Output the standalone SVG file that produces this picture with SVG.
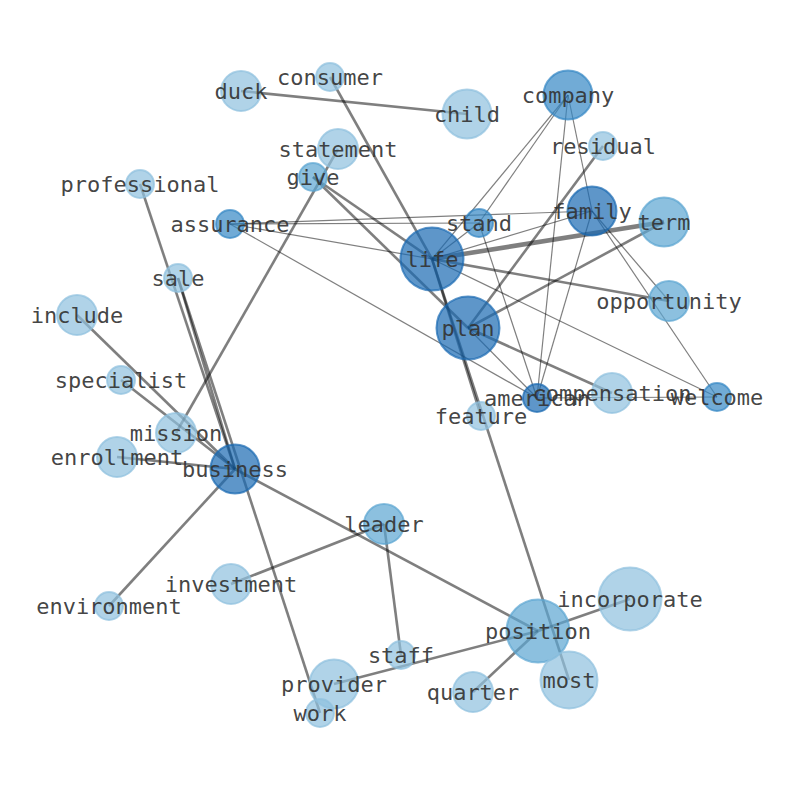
<svg xmlns="http://www.w3.org/2000/svg" width="794" height="790" viewBox="0 0 794 790">
<style>
.e{stroke:#000;stroke-opacity:0.5;fill:none;stroke-linecap:butt}
.m{stroke-width:2.6}
.t{stroke-width:1.2}
.k{stroke-width:4.6}
circle{stroke-width:2;fill-opacity:0.7;stroke-opacity:0.7}
.L{fill:#8ec0de;stroke:#8ec0de}
.M{fill:#5ba5d1;stroke:#5ba5d1}
.D2{fill:#3488c4;stroke:#3488c4}
.D{fill:#1a6ab2;stroke:#1a6ab2}
text{font-family:"DejaVu Sans Mono","Liberation Mono",monospace;font-size:22px;fill:#333;fill-opacity:0.92;text-anchor:middle;dominant-baseline:central}
</style>
<rect width="794" height="790" fill="#fff"/>
<g id="edges">
<line class="e m" x1="241" y1="91" x2="467" y2="114"/>
<line class="e m" x1="330" y1="77" x2="432" y2="259"/>
<line class="e m" x1="338" y1="149" x2="176" y2="433"/>
<line class="e m" x1="313" y1="177" x2="432" y2="259"/>
<line class="e m" x1="313" y1="177" x2="468" y2="328"/>
<line class="e m" x1="140" y1="184" x2="235" y2="469"/>
<line class="e m" x1="178" y1="278" x2="235" y2="469"/>
<line class="e m" x1="178" y1="278" x2="320" y2="713"/>
<line class="e m" x1="77" y1="315" x2="235" y2="469"/>
<line class="e m" x1="121" y1="380" x2="235" y2="469"/>
<line class="e m" x1="117" y1="457" x2="235" y2="469"/>
<line class="e m" x1="109" y1="606" x2="235" y2="469"/>
<line class="e m" x1="235" y1="469" x2="538" y2="631"/>
<line class="e m" x1="231" y1="584" x2="384" y2="524"/>
<line class="e m" x1="384" y1="524" x2="401" y2="655"/>
<line class="e m" x1="334" y1="684" x2="538" y2="631"/>
<line class="e m" x1="538" y1="631" x2="630" y2="599"/>
<line class="e m" x1="538" y1="631" x2="473" y2="692"/>
<line class="e m" x1="432" y1="259" x2="569" y2="680"/>
<line class="e m" x1="432" y1="259" x2="481" y2="416"/>
<line class="e m" x1="432" y1="259" x2="669" y2="301"/>
<line class="e m" x1="468" y1="328" x2="664" y2="222"/>
<line class="e m" x1="468" y1="328" x2="603" y2="146"/>
<line class="e m" x1="468" y1="328" x2="612" y2="393"/>
<line class="e k" x1="432" y1="259" x2="664" y2="222"/>
<line class="e t" x1="230" y1="224" x2="479" y2="223"/>
<line class="e t" x1="230" y1="224" x2="592" y2="211"/>
<line class="e t" x1="230" y1="224" x2="432" y2="259"/>
<line class="e t" x1="230" y1="224" x2="537" y2="398"/>
<line class="e t" x1="568" y1="95" x2="479" y2="223"/>
<line class="e t" x1="568" y1="95" x2="432" y2="259"/>
<line class="e t" x1="568" y1="95" x2="537" y2="398"/>
<line class="e t" x1="568" y1="95" x2="592" y2="211"/>
<line class="e t" x1="592" y1="211" x2="669" y2="301"/>
<line class="e t" x1="592" y1="211" x2="717" y2="397"/>
<line class="e t" x1="592" y1="211" x2="537" y2="398"/>
<line class="e t" x1="432" y1="259" x2="717" y2="397"/>
<line class="e t" x1="432" y1="259" x2="592" y2="211"/>
<line class="e t" x1="432" y1="259" x2="479" y2="223"/>
<line class="e t" x1="479" y1="223" x2="537" y2="398"/>
<line class="e t" x1="468" y1="328" x2="537" y2="398"/>
<line class="e t" x1="537" y1="398" x2="717" y2="397"/>
</g>
<g id="node-duck"><circle class="L" cx="241" cy="91" r="20"/><text x="241" y="91">duck</text></g>
<g id="node-consumer"><circle class="L" cx="330" cy="77" r="14"/><text x="330" y="77">consumer</text></g>
<g id="node-child"><circle class="L" cx="467" cy="114" r="24.5"/><text x="467" y="114">child</text></g>
<g id="node-company"><circle class="D2" cx="568" cy="95" r="24.5"/><text x="568" y="95">company</text></g>
<g id="node-residual"><circle class="L" cx="603" cy="146" r="14"/><text x="603" y="146">residual</text></g>
<g id="node-statement"><circle class="L" cx="338" cy="149" r="20"/><text x="338" y="149">statement</text></g>
<g id="node-give"><circle class="M" cx="313" cy="177" r="14"/><text x="313" y="177">give</text></g>
<g id="node-professional"><circle class="L" cx="140" cy="184" r="14"/><text x="140" y="184">professional</text></g>
<g id="node-assurance"><circle class="D2" cx="230" cy="224" r="14"/><text x="230" y="224">assurance</text></g>
<g id="node-life"><circle class="D" cx="432" cy="259" r="31.5"/><text x="432" y="259">life</text></g>
<g id="node-stand"><circle class="D2" cx="479" cy="223" r="14"/><text x="479" y="223">stand</text></g>
<g id="node-family"><circle class="D" cx="592" cy="211" r="24.5"/><text x="592" y="211">family</text></g>
<g id="node-term"><circle class="M" cx="664" cy="222" r="24.5"/><text x="664" y="222">term</text></g>
<g id="node-sale"><circle class="L" cx="178" cy="278" r="14"/><text x="178" y="278">sale</text></g>
<g id="node-include"><circle class="L" cx="77" cy="315" r="20"/><text x="77" y="315">include</text></g>
<g id="node-opportunity"><circle class="M" cx="669" cy="301" r="20"/><text x="669" y="301">opportunity</text></g>
<g id="node-plan"><circle class="D" cx="468" cy="328" r="31.5"/><text x="468" y="328">plan</text></g>
<g id="node-specialist"><circle class="L" cx="121" cy="380" r="14"/><text x="121" y="380">specialist</text></g>
<g id="node-feature"><circle class="L" cx="481" cy="416" r="14"/><text x="481" y="416">feature</text></g>
<g id="node-american"><circle class="D" cx="537" cy="398" r="14"/><text x="537" y="398">american</text></g>
<g id="node-compensation"><circle class="L" cx="612" cy="393" r="20"/><text x="612" y="393">compensation</text></g>
<g id="node-welcome"><circle class="D2" cx="717" cy="397" r="14"/><text x="717" y="397">welcome</text></g>
<g id="node-mission"><circle class="L" cx="176" cy="433" r="20"/><text x="176" y="433">mission</text></g>
<g id="node-enrollment"><circle class="L" cx="117" cy="457" r="20"/><text x="117" y="457">enrollment</text></g>
<g id="node-business"><circle class="D" cx="235" cy="469" r="24.5"/><text x="235" y="469">business</text></g>
<g id="node-leader"><circle class="M" cx="384" cy="524" r="20"/><text x="384" y="524">leader</text></g>
<g id="node-investment"><circle class="L" cx="231" cy="584" r="20"/><text x="231" y="584">investment</text></g>
<g id="node-environment"><circle class="L" cx="109" cy="606" r="14"/><text x="109" y="606">environment</text></g>
<g id="node-position"><circle class="M" cx="538" cy="631" r="31.5"/><text x="538" y="631">position</text></g>
<g id="node-incorporate"><circle class="L" cx="630" cy="599" r="31.5"/><text x="630" y="599">incorporate</text></g>
<g id="node-staff"><circle class="L" cx="401" cy="655" r="14"/><text x="401" y="655">staff</text></g>
<g id="node-provider"><circle class="L" cx="334" cy="684" r="24.5"/><text x="334" y="684">provider</text></g>
<g id="node-most"><circle class="L" cx="569" cy="680" r="28.5"/><text x="569" y="680">most</text></g>
<g id="node-quarter"><circle class="L" cx="473" cy="692" r="20"/><text x="473" y="692">quarter</text></g>
<g id="node-work"><circle class="L" cx="320" cy="713" r="14"/><text x="320" y="713">work</text></g>
</svg>
